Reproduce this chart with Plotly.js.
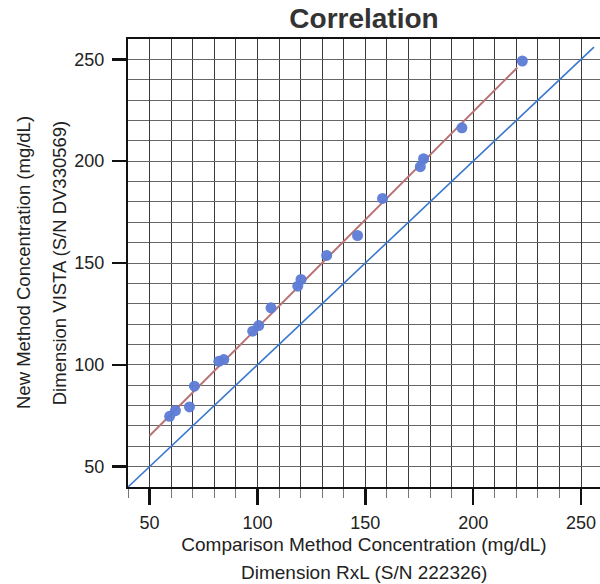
<!DOCTYPE html>
<html>
<head>
<meta charset="utf-8">
<script src="https://cdn.plot.ly/plotly-3.0.1.min.js"></script>
<style>html,body{margin:0;padding:0;background:#fff;}#chart{width:600px;height:584px;}</style>
</head>
<body>
<div id="chart"></div>
<script>
// Measured sample pairs (comparison method x, new method y), mg/dL
var compX = [59.3, 62.0, 68.5, 70.8, 82.1, 84.4, 97.8, 100.6, 106.3, 118.7, 120.2, 132.1, 146.4, 158.0, 175.5, 177.0, 194.8, 222.8];
var newY  = [74.7, 77.5, 79.3, 89.5, 101.7, 102.6, 116.5, 119.3, 128.0, 138.6, 141.9, 153.7, 163.5, 181.7, 197.3, 201.2, 216.4, 249.2];
// Regression line endpoints (as drawn)
var fitX = [50, 220.5];
var fitY = [65.2, 246.0];
// Identity line endpoints
var identX = [38, 256];
var identY = [38, 256];
var tickVals = [50, 100, 150, 200, 250];
var tickText = ['50', '100', '150', '200', '250'];

var font = 'Liberation Sans, Arial, Helvetica, sans-serif';

var traces = [
  {x: identX, y: identY, mode: 'lines', type: 'scatter', cliponaxis: false,
   line: {color: 'rgb(58,120,205)', width: 1.6}, hoverinfo: 'skip', name: 'y = x'},
  {x: fitX, y: fitY, mode: 'lines', type: 'scatter',
   line: {color: 'rgb(185,115,115)', width: 2}, name: 'Fit'},
  {x: compX, y: newY, mode: 'markers', type: 'scatter',
   marker: {color: 'rgb(92,124,214)', size: 11, opacity: 0.95}, name: 'Samples'}
];

var layout = {
  width: 600, height: 584,
  margin: {l: 128, r: 0, t: 39, b: 97},
  paper_bgcolor: '#fff', plot_bgcolor: '#fff',
  showlegend: false,
  font: {family: font, color: '#222', size: 18},
  title: {text: '<b>Correlation</b>', x: 0.5, xref: 'paper', xanchor: 'center',
          y: 1 - 18/584, yref: 'container', yanchor: 'middle',
          font: {family: font, size: 28, color: '#333'}},
  xaxis: {
    range: [40, 258.8], tickmode: 'array', tickvals: tickVals, ticktext: tickText,
    showline: true, linecolor: '#111', linewidth: 2, mirror: true,
    ticks: 'outside', ticklen: 16, tickwidth: 2.5, tickcolor: '#111',
    ticklabelstandoff: 2,
    showgrid: true, gridcolor: '#3a3a3a', gridwidth: 1,
    minor: {dtick: 10, tick0: 0, ticks: 'outside', ticklen: 9, tickwidth: 1, tickcolor: '#777',
            showgrid: true, gridcolor: '#3a3a3a', gridwidth: 1},
    zeroline: false, tickfont: {size: 18, color: '#222'},
    title: {text: 'Comparison Method Concentration (mg/dL)', standoff: 6,
            font: {size: 19, color: '#222'}}
  },
  yaxis: {
    range: [40, 260], tickmode: 'array', tickvals: tickVals, ticktext: tickText,
    showline: true, linecolor: '#111', linewidth: 2, mirror: false,
    ticks: 'outside', ticklen: 14, tickwidth: 2.5, tickcolor: '#111',
    ticklabelstandoff: 4,
    showgrid: true, gridcolor: '#666', gridwidth: 1,
    minor: {dtick: 10, tick0: 0, ticks: '', showgrid: true, gridcolor: '#666', gridwidth: 1},
    zeroline: false, tickfont: {size: 18, color: '#222'},
    title: {text: 'Dimension VISTA (S/N DV330569)', standoff: 3,
            font: {size: 18.5, color: '#222'}}
  },
  annotations: [
    {text: 'New Method Concentration (mg/dL)', textangle: -90, xref: 'paper', yref: 'paper',
     x: (23 - 128) / 472, y: 0.5, xanchor: 'center', yanchor: 'middle', showarrow: false,
     font: {family: font, size: 18.5, color: '#222'}},
    {text: 'Dimension RxL (S/N 222326)', xref: 'paper', yref: 'paper',
     x: 0.5, y: -(572 - 487) / 448, xanchor: 'center', yanchor: 'middle', showarrow: false,
     font: {family: font, size: 19, color: '#222'}}
  ]
};

Plotly.newPlot('chart', traces, layout, {displayModeBar: false, staticPlot: true});
</script>
</body>
</html>
